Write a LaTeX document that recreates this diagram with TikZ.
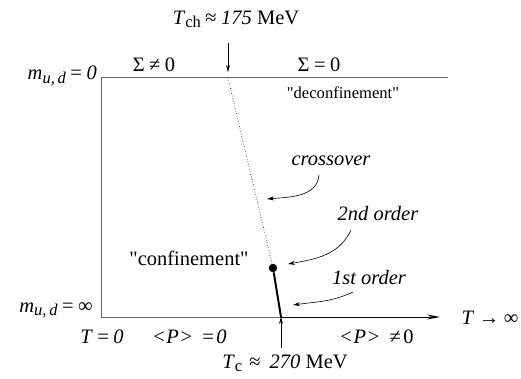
\documentclass[tikz,border=0pt]{standalone}
\usepackage{fontspec}
\setmainfont{Liberation Serif}
\usetikzlibrary{arrows.meta}
\newcommand{\sub}[1]{\raisebox{-0.35ex}{\fontsize{16.5}{18}\selectfont #1}}
\newcommand{\rl}[1]{\hspace{0.22em}#1\hspace{0.22em}}
\begin{document}
\begin{tikzpicture}[x=1pt,y=-1pt,
  axis/.style={draw=black!60, line width=0.9pt},
  arr/.style={-{Stealth[length=7pt,width=4pt]}, line width=0.6pt},
  lbl/.style={font=\fontsize{20.5}{23}\selectfont, inner sep=0pt}]
\useasboundingbox (0,0) rectangle (521,379);
% coordinates
\coordinate (O) at (101,317);
\coordinate (TL) at (101,77);
\coordinate (TR) at (448,77);
\coordinate (XE) at (440,317);
\coordinate (Ttop) at (228,78);
\coordinate (Tc) at (281,317);
\node[circle, fill=black, inner sep=0pt, minimum size=8.5pt] (cp) at (273,268) {};
% axes
\draw[axis] (TR) -- (TL) -- (O);
\draw[axis, -{Stealth[length=13pt,width=5pt]}, black] (O) -- (XE);
\draw[axis] (O) -- (280,317);
% transition lines
\draw[dotted, line width=0.6pt] (Ttop) -- (cp);
\draw[line width=2pt] (cp) -- (Tc);
% labels
\node[lbl] (tch) at (236,19) {\textit{T}\sub{ch}\rl{≈}\textit{175} MeV};
\coordinate (tcha) at (228,43);
\draw[arr] (tcha) -- (228,72);
\node[lbl] (sn) at (154,65) {Σ\rl{≠}0};
\node[lbl] (se) at (319,65) {Σ\rl{=}0};
\node[lbl, anchor=east] (m0) at (97,76) {\textit{m}\sub{\textit{u,\,d}}\rl{=}\textit{0}};
\node[lbl, anchor=east] (minf) at (93,310) {\textit{m}\sub{\textit{u,\,d}}\rl{=}∞};
\node[lbl, font=\fontsize{16.6}{19}\selectfont] (dec) at (343,93) {\textquotedbl deconfinement\textquotedbl};
\node[lbl] (conf) at (189,258) {\textquotedbl confinement\textquotedbl};
\node[lbl] (cross) at (331,161) {\textit{crossover}};
\node[lbl] (so) at (378,213) {\textit{2nd order}};
\node[lbl] (fo) at (369,277) {\textit{1st order}};
\draw[arr] (319,175) to[out=-95,in=5] (267,199);
\draw[arr] (351,230) to[out=-115,in=10] (288,264);
\draw[arr] (353,292) to[out=-155,in=8] (293,305);
\node[lbl] (tinf) at (490,318) {\textit{T}\rl{→}∞};
\node[lbl] (t0) at (102,337) {\textit{T}\rl{=}\textit{0}};
\node[lbl] (p0) at (190,337) {<\hspace{0.08em}\textit{P}\hspace{0.08em}>\hspace{0.5em}=\hspace{0.12em}\textit{0}};
\node[lbl] (pn) at (377,337) {<\hspace{0.08em}\textit{P}\hspace{0.08em}>\hspace{0.5em}≠\hspace{0.12em}0};
\node[lbl] (tc) at (285,363) {\textit{T}\sub{c}\hspace{0.35em}≈\rl{}\textit{270} MeV};
\draw[arr] (281,348) -- (Tc);
\end{tikzpicture}
\end{document}
